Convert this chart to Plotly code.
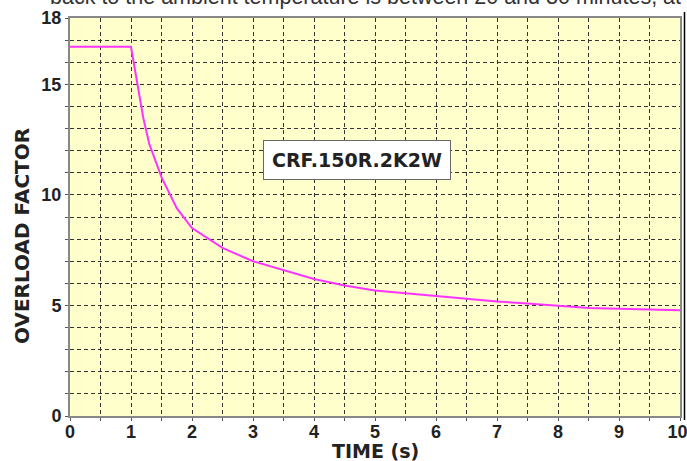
import plotly.graph_objects as go

# Data
time_s = [0, 1.0, 1.2, 1.3, 1.5, 1.75, 2.0, 2.5, 3.0, 3.5, 4.0, 4.5, 5.0, 5.5, 6.0, 6.5, 7.0, 7.5, 8.0, 8.5, 9.0, 9.5, 10.0]
overload = [16.7, 16.7, 13.5, 12.3, 10.8, 9.4, 8.5, 7.6, 7.0, 6.6, 6.2, 5.9, 5.68, 5.55, 5.43, 5.29, 5.18, 5.09, 4.99, 4.89, 4.85, 4.82, 4.78]

x_grid = [i * 0.5 for i in range(21)]
x_labels = [str(int(v)) if v == int(v) else "" for v in x_grid]
y_grid = list(range(19))
y_labels = [str(v) if v in (0, 5, 10, 15, 18) else "" for v in y_grid]

label_text = "CRF.150R.2K2W"
title_x = "TIME (s)"
title_y = "OVERLOAD FACTOR"
top_text = "back to the ambient temperature is between 20 and 30 minutes, at"

W, H = 687, 461
ml, mr, mt, mb = 70, 7, 18, 45
plot_h = H - mt - mb
plot_w = W - ml - mr

fig = go.Figure()
fig.add_trace(go.Scatter(x=time_s, y=overload, mode="lines",
                         line=dict(color="#FF33FF", width=2), showlegend=False,
                         hoverinfo="skip"))

x_tick_font = dict(family="Liberation Sans Narrow, Liberation Sans", size=18, color="#222222")
y_tick_font = dict(family="Liberation Sans", size=18, color="#222222")
grid_style = dict(showgrid=True, gridcolor="#333333", gridwidth=1, griddash="4px,3px")

# last label nudged inward slightly (as in the reference, it sits flush with the page edge)
x_ticktext = []
for i, t in enumerate(x_labels):
    if not t:
        x_ticktext.append("")
    elif i == len(x_labels) - 1:
        x_ticktext.append("<b>" + t + "</b>&nbsp;")
    else:
        x_ticktext.append("<b>" + t + "</b>")

fig.update_xaxes(range=[0, 10], tickmode="array", tickvals=x_grid,
                 ticktext=x_ticktext,
                 ticks="outside", ticklen=3, tickcolor="#555555", tickfont=x_tick_font,
                 ticklabeloverflow="allow", ticklabelstandoff=-5, automargin=False,
                 showline=True, linecolor="#888888", linewidth=2, mirror=True,
                 zeroline=False, **grid_style)
fig.update_yaxes(range=[0, 18], tickmode="array", tickvals=y_grid,
                 ticktext=["<b>" + t + "</b>" if t else "" for t in y_labels],
                 ticks="outside", ticklen=3, tickcolor="#555555", tickfont=y_tick_font,
                 ticklabeloverflow="allow", automargin=False,
                 showline=True, linecolor="#888888", linewidth=2, mirror=True,
                 zeroline=False, **grid_style)

def py(px):
    # pixel row -> paper y
    return 1 + (mt - px) / plot_h

def px_(p):
    # pixel column -> paper x
    return (p - ml) / plot_w

annotations = [
    dict(text="<b>" + label_text + "</b>", x=4.71, y=11.56, xref="x", yref="y",
         showarrow=False, font=dict(family="DejaVu Sans", size=19, color="#222222"),
         bgcolor="#FFFFFF", bordercolor="#666666", borderwidth=1, borderpad=8),
    dict(text="<b>" + title_x + "</b>", x=0.5, xref="paper", y=py(451), yref="paper",
         xanchor="center", yanchor="middle", showarrow=False,
         font=dict(family="DejaVu Sans", size=19, color="#222222")),
    dict(text="<b>" + title_y + "</b>", x=px_(22), xref="paper", y=py(236), yref="paper",
         xanchor="center", yanchor="middle", textangle=-90, showarrow=False,
         font=dict(family="DejaVu Sans", size=20, color="#222222")),
    dict(text=top_text, x=px_(48), xref="paper", y=py(-3), yref="paper",
         xanchor="left", yanchor="middle", showarrow=False,
         font=dict(family="Liberation Sans", size=21.5, color="#333333")),
]

fig.update_layout(
    width=W, height=H, margin=dict(l=ml, r=mr, t=mt, b=mb),
    paper_bgcolor="#FFFFFF", plot_bgcolor="#FFFFCC",
    annotations=annotations,
    shapes=[dict(type="line", xref="paper", yref="paper",
                 x0=px_(684.5), x1=px_(684.5),
                 y0=py(12), y1=py(420), line=dict(color="#000000", width=1.5))],
)

fig.write_html("out.html")
